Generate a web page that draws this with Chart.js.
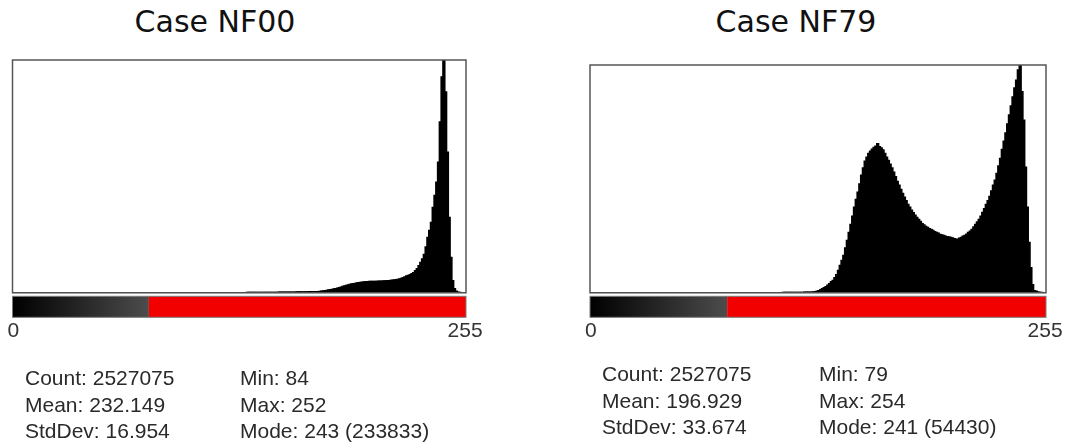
<!DOCTYPE html>
<html>
<head>
<meta charset="utf-8">
<script src="https://cdn.jsdelivr.net/npm/chart.js@4.4.1/dist/chart.umd.min.js"></script>
<style>
  body { margin: 0; background: #fff; }
  #page { position: relative; width: 1068px; height: 445px; overflow: hidden; }
  canvas { position: absolute; top: 40px; }
  .title {
    position: absolute; top: 7px; width: 300px; text-align: center;
    font-family: "DejaVu Sans", sans-serif; font-size: 30px; line-height: 30px; color: #111;
  }
  .stats {
    position: absolute; font-family: "Liberation Sans", Arial, sans-serif;
    font-size: 21px; line-height: 26.7px; color: #2a2a2a; white-space: nowrap;
  }
</style>
</head>
<body>
<div id="page">
  <div class="title" style="left:65px">Case NF00</div>
  <div class="title" style="left:646px">Case NF79</div>

  <canvas id="histNF00" width="534" height="340" style="left:0"></canvas>
  <canvas id="histNF79" width="512" height="340" style="left:556px"></canvas>

  <div class="stats" style="left:25px;top:365px">Count: 2527075<br>Mean: 232.149<br>StdDev: 16.954</div>
  <div class="stats" style="left:240px;top:365px">Min: 84<br>Max: 252<br>Mode: 243 (233833)</div>
  <div class="stats" style="left:602px;top:361px">Count: 2527075<br>Mean: 196.929<br>StdDev: 33.674</div>
  <div class="stats" style="left:819px;top:361px">Min: 79<br>Max: 254<br>Mode: 241 (54430)</div>
</div>

<script>
// grey levels 0..255
const bins = Array.from({ length: 256 }, (_, i) => i);
const tickLabels = ["0", "255"];
const lutThreshold = 77; // LUT strip turns red from here

// Case NF00, counts for bins 84..252
const nf00Start = 84;
const nf00Counts = [
  2, 3, 2, 4, 3, 5, 4, 6, 5, 7, 6, 8, 9, 8, 10, 11,
  12, 14, 13, 16, 18, 17, 20, 22, 24, 23, 27, 29, 31, 34, 36, 39, 42, 45, 49, 53,
  57, 62, 66, 71, 77, 82, 88, 95, 101, 108, 116, 124, 132, 141, 150, 160, 170, 181, 193, 205,
  218, 231, 245, 260, 276, 292, 309, 327, 346, 366, 387, 409, 432, 456, 481, 507, 534, 562, 591, 621,
  652, 684, 717, 751, 786, 822, 859, 897, 936, 976, 1017, 1059, 1102,
  1300, 1500, 1750, 2000, 2300, 2650, 3000, 3350, 3700, 4100,
  4550, 5000, 5600, 6200, 6900, 7400, 7900, 8300, 8700, 9000,
  9350, 9700, 10000, 10300, 10600, 10900, 11000, 11100, 11200, 11250,
  11300, 11350, 11400, 11500, 11550, 11650, 11700, 11800, 11950, 12100,
  12300, 12500, 12700, 13000, 13300, 13800, 14400, 15100, 15900, 16700,
  17400, 18200, 19100, 20200, 22000, 24200, 27000, 30500, 34000, 38500,
  46000, 55500, 62500, 70600, 85700, 97800, 111000, 131000, 171400, 216700,
  233833, 201600, 141100, 75600, 35300, 12100, 4000, 1500, 600, 200
];
const nf00Mode = 233833;

// Case NF79, counts for bins 79..254
const nf79Start = 79;
const nf79Counts = [
  1, 1, 2, 1, 2, 3, 2, 3, 4, 3, 5, 4, 6, 5, 7, 8, 7, 9, 10, 11,
  12, 13, 15, 16, 18, 20, 22, 24, 27, 30, 33, 36, 40, 44, 48, 53, 58, 64, 70, 77, 85, 93, 102, 112, 123, 135,
  150, 230, 330, 480, 720, 960, 1200, 1440, 1800, 2160,
  2600, 2900, 3600, 4300, 5300, 6500, 7700, 8900, 10700, 12500,
  14400, 16300, 18300, 20400, 22300, 24000, 26000, 28100, 29800, 31400,
  32400, 33300, 33800, 34300, 34700, 35000, 35600, 34900, 34600, 34100,
  33300, 32400, 31600, 30700, 29800, 28800, 27700, 26600, 25700, 24700,
  23700, 22800, 22000, 21100, 20400, 19700, 19100, 18500, 18000, 17500,
  17000, 16500, 16200, 15800, 15600, 15300, 15100, 14900, 14600, 14400,
  14200, 13900, 13800, 13700, 13500, 13400, 13300, 13200, 13100, 12900,
  12800, 12700, 13000, 13200, 13500, 13700, 14000, 14400, 14700, 15100,
  15700, 16300, 16900, 17500, 18300, 19200, 20100, 21100, 22000, 23000,
  24300, 25700, 26900, 28500, 30300, 32100, 34200, 36200, 38200, 40300,
  42500, 44600, 46800, 48900, 50800, 53200, 54430, 48000, 41200, 30000,
  20400, 12000, 6000, 1900, 500, 360, 150, 70, 30, 10
];
const nf79Mode = 54430;

// LUT strip under the plot plus the grey frame round it
const lutStrip = {
  id: "lutStrip",
  afterDatasetsDraw(chart) {
    const { ctx, chartArea: a, scales: { x } } = chart;
    const w = a.width / bins.length;
    const top = a.bottom + 3.5, h = 21;
    const split = x.getPixelForValue(lutThreshold) - w / 2;
    ctx.save();
    const grad = ctx.createLinearGradient(a.left, 0, split, 0);
    grad.addColorStop(0, "rgb(0,0,0)");
    grad.addColorStop(1, `rgb(${lutThreshold - 1},${lutThreshold - 1},${lutThreshold - 1})`);
    ctx.fillStyle = grad;
    ctx.fillRect(a.left, top, split - a.left, h);
    ctx.fillStyle = "#f20000";
    ctx.fillRect(split, top, a.right - split, h);
    ctx.strokeStyle = "#7a7a7a";
    ctx.lineWidth = 1;
    ctx.strokeRect(a.left, top, a.width, h);
    ctx.strokeStyle = "#555";
    ctx.lineWidth = 1.5;
    ctx.strokeRect(a.left, a.top, a.width, a.height);
    ctx.restore();
  },
};

function histogram(id, start, counts, mode, padding) {
  const values = bins.map((b) => (b >= start && b - start < counts.length ? counts[b - start] : 0));
  return new Chart(document.getElementById(id), {
    type: "bar",
    data: {
      labels: bins,
      datasets: [{
        data: values,
        backgroundColor: "#000",
        borderWidth: 0,
        inflateAmount: 0.8,
        barPercentage: 1,
        categoryPercentage: 1,
      }],
    },
    options: {
      responsive: false,
      animation: false,
      layout: { padding: padding },
      plugins: { legend: { display: false }, tooltip: { enabled: false } },
      scales: {
        x: {
          grid: { display: false, drawTicks: true, tickLength: 22 },
          border: { display: false },
          ticks: {
            autoSkip: false,
            maxRotation: 0,
            minRotation: 0,
            padding: 4,
            color: "#333",
            font: { family: "Liberation Sans", size: 21 },
            callback: (v, i) => (i === 0 ? tickLabels[0] : i === 255 ? tickLabels[1] : ""),
          },
        },
        y: { display: false, min: 0, max: mode },
      },
    },
    plugins: [lutStrip],
  });
}

histogram("histNF00", nf00Start, nf00Counts, nf00Mode, { left: 12.5, right: 68, top: 20, bottom: 32 });
histogram("histNF79", nf79Start, nf79Counts, nf79Mode, { left: 34, right: 22, top: 25, bottom: 32 });
</script>
</body>
</html>
